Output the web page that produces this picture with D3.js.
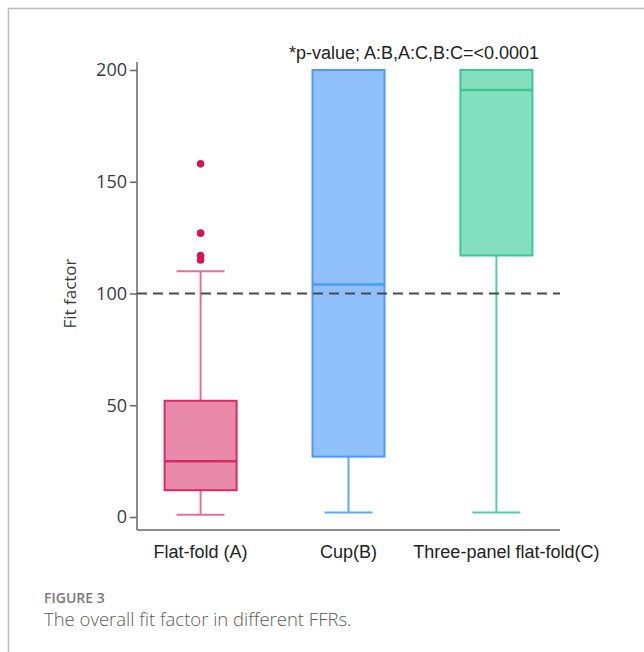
<!DOCTYPE html>
<html>
<head>
<meta charset="utf-8">
<script src="https://cdn.jsdelivr.net/npm/d3@7"></script>
<style>
  body { margin: 0; background: #fff; }
  svg { display: block; }
</style>
</head>
<body>
<svg id="canvas" width="644" height="652"></svg>
<script>
// box summaries
var groups = ['Flat-fold (A)', 'Cup(B)', 'Three-panel flat-fold(C)'];
var lowWhisker = [1, 2, 2];
var q1 = [12, 27, 117];
var median = [25, 104, 191];
var q3 = [52, 200, 200];
var highWhisker = [110, 200, 200];
var outliers = [[158, 127, 117, 115], [], []];
var yTicks = [0, 50, 100, 150, 200];
var refLine = 100;

var fills = ['#e98aaa', '#8fc0fb', '#83dfbf'];
var strokes = ['#d92a68', '#4a9af8', '#3cc894'];
var whiskerColors = ['#e3709a', '#5ea9f9', '#52d0a2'];

(function() {
    var svg = d3.select('#canvas');

    // page frame (top + left rule)
    svg.append('path')
        .attr('d', 'M8.5,652V8.5H644')
        .attr('fill', 'none')
        .attr('stroke', '#bdbdbd')
        .attr('stroke-width', 1.5);

    var left = 137, right = 560, top = 70, bottom = 517, axisY = 530;

    var x = d3.scalePoint()
        .domain(groups)
        .range([left, right])
        .padding(0.43);

    var y = d3.scaleLinear()
        .domain([0, 200])
        .range([bottom, top]);

    var boxW = 72, capW = 48;

    // y axis
    var yAxis = svg.append('g')
        .attr('transform', 'translate(' + left + ',0)')
        .call(d3.axisLeft(y).tickValues(yTicks).tickSize(7).tickPadding(3));
    yAxis.select('.domain')
        .attr('d', 'M0,' + (top - 8) + 'V' + axisY)
        .attr('stroke', '#666')
        .attr('stroke-width', 1.5);
    yAxis.selectAll('.tick line').attr('stroke', '#666').attr('stroke-width', 1.5);
    yAxis.selectAll('.tick text')
        .attr('fill', '#3a3a3a')
        .style('font-family', '"Open Sans", sans-serif')
        .style('font-size', '18px');

    // x axis line
    svg.append('line')
        .attr('x1', left).attr('x2', right)
        .attr('y1', axisY).attr('y2', axisY)
        .attr('stroke', '#666')
        .attr('stroke-width', 1.5);

    svg.selectAll('.xlabel')
        .data(groups)
        .enter().append('text')
        .attr('class', 'xlabel')
        .attr('x', function(d, i) { return x(d) + (i === 2 ? 10 : 0); })
        .attr('y', 558)
        .attr('text-anchor', 'middle')
        .attr('fill', '#222')
        .style('font-family', '"Liberation Sans", Arial, sans-serif')
        .style('font-size', '18px')
        .text(function(d) { return d; });

    svg.append('text')
        .attr('transform', 'translate(76,' + y(100) + ') rotate(-90)')
        .attr('text-anchor', 'middle')
        .attr('fill', '#3a3a3a')
        .style('font-family', '"Open Sans", sans-serif')
        .style('font-size', '17px')
        .text('Fit factor');

    var g = svg.selectAll('.box')
        .data(groups)
        .enter().append('g')
        .attr('class', 'box');

    // whiskers
    g.each(function(d, i) {
        var el = d3.select(this);
        var cx = x(d);
        var segs = [[lowWhisker[i], q1[i]], [q3[i], highWhisker[i]]];
        segs.forEach(function(s) {
            if (s[0] === s[1]) return;
            el.append('line')
                .attr('x1', cx).attr('x2', cx)
                .attr('y1', y(s[0])).attr('y2', y(s[1]))
                .attr('stroke', whiskerColors[i])
                .attr('stroke-width', 2);
        });
        [lowWhisker[i], highWhisker[i]].forEach(function(v, k) {
            if ((k === 0 && v === q1[i]) || (k === 1 && v === q3[i])) return;
            el.append('line')
                .attr('x1', cx - capW / 2).attr('x2', cx + capW / 2)
                .attr('y1', y(v)).attr('y2', y(v))
                .attr('stroke', whiskerColors[i])
                .attr('stroke-width', 2);
        });
    });

    // boxes
    g.append('rect')
        .attr('x', function(d) { return x(d) - boxW / 2; })
        .attr('y', function(d, i) { return y(q3[i]); })
        .attr('width', boxW)
        .attr('height', function(d, i) { return y(q1[i]) - y(q3[i]); })
        .attr('fill', function(d, i) { return fills[i]; })
        .attr('stroke', function(d, i) { return strokes[i]; })
        .attr('stroke-width', 2);

    g.append('line')
        .attr('x1', function(d) { return x(d) - boxW / 2; })
        .attr('x2', function(d) { return x(d) + boxW / 2; })
        .attr('y1', function(d, i) { return y(median[i]); })
        .attr('y2', function(d, i) { return y(median[i]); })
        .attr('stroke', function(d, i) { return strokes[i]; })
        .attr('stroke-width', 2.5);

    // outliers
    g.each(function(d, i) {
        d3.select(this).selectAll('circle')
            .data(outliers[i])
            .enter().append('circle')
            .attr('cx', x(d))
            .attr('cy', function(v) { return y(v); })
            .attr('r', 3.8)
            .attr('fill', '#d6145a');
    });

    // reference line at 100
    svg.append('line')
        .attr('x1', left).attr('x2', right)
        .attr('y1', y(refLine)).attr('y2', y(refLine))
        .attr('stroke', '#4a4a4a')
        .attr('stroke-width', 2)
        .attr('stroke-dasharray', '10,6');

    svg.append('text')
        .attr('x', 414)
        .attr('y', 59)
        .attr('text-anchor', 'middle')
        .attr('fill', '#222')
        .style('font-family', '"Liberation Sans", Arial, sans-serif')
        .style('font-size', '18px')
        .text('*p-value; A:B,A:C,B:C=<0.0001');

    // caption
    svg.append('text')
        .attr('x', 44).attr('y', 603)
        .attr('fill', '#7a7a7a')
        .style('font-family', '"Open Sans", sans-serif')
        .style('font-weight', 600)
        .style('font-size', '14px')
        .text('FIGURE 3');

    svg.append('text')
        .attr('x', 44).attr('y', 626)
        .attr('fill', '#5a5a5a')
        .style('font-family', '"Open Sans", sans-serif')
        .style('font-weight', 300)
        .style('font-size', '18.5px')
        .text('The overall fit factor in different FFRs.');
})();
</script>
</body>
</html>
